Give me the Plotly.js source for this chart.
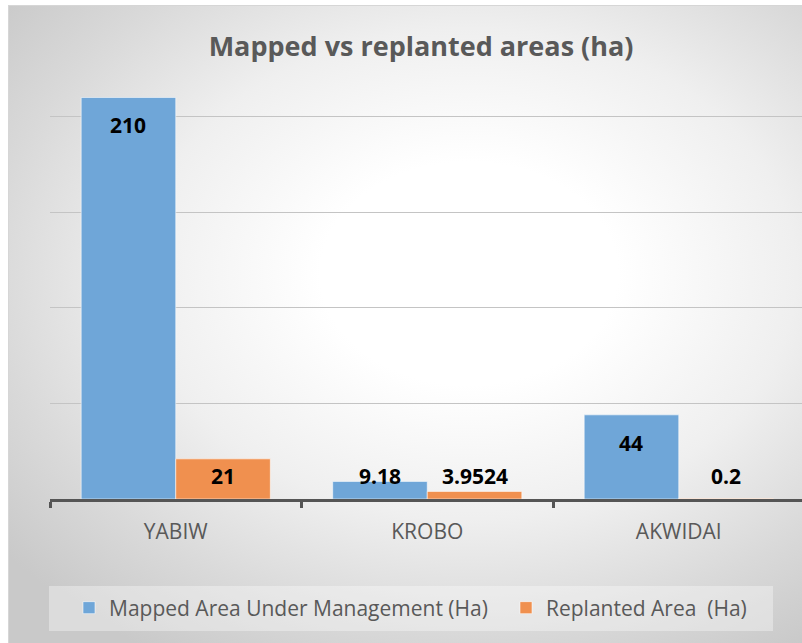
<!DOCTYPE html>
<html>
<head>
<meta charset="utf-8">
<script src="https://cdn.plot.ly/plotly-3.0.1.min.js"></script>
<style>
  html, body { margin: 0; padding: 0; background: #ffffff; overflow: hidden; }
  #wrap { position: relative; width: 802px; height: 643px; }
  #bg {
    position: absolute; left: 8px; top: 5px; right: 0; bottom: 0;
    border-top: 1px solid #d6d6d6; border-left: 1px solid #d6d6d6;
    background: radial-gradient(ellipse 75% 70% at 58% 42%, #ffffff 0%, #ffffff 25%, #efefef 55%, #d9d9d9 80%, #c9c9c9 100%);
  }
  #chart { position: absolute; left: 0; top: 0; width: 802px; height: 643px; }
</style>
</head>
<body>
<div id="wrap">
  <div id="bg"></div>
  <div id="chart"></div>
</div>
<script>
// ---- data ----
var categories = ["YABIW", "KROBO", "AKWIDAI"];
var mappedArea = [210, 9.18, 44];
var replantedArea = [21, 3.9524, 0.2];
var mappedLabels = ["210", "9.18", "44"];
var replantedLabels = ["21", "3.9524", "0.2"];
var seriesNames = ["Mapped Area Under Management (Ha)", "Replanted Area  (Ha)"];
var chartTitle = "Mapped vs replanted areas (ha)";

// ---- style ----
var FONT = "Open Sans, sans-serif";
var blue = "#6FA6D8";
var orange = "#F0904F";
var bargap = 0.248;

var traces = [
  {
    type: "bar", name: seriesNames[0], x: categories, y: mappedArea,
    marker: { color: blue, line: { color: "rgba(255,255,255,0.55)", width: 1 } },
    legend: "legend",
    hoverinfo: "none"
  },
  {
    type: "bar", name: seriesNames[1], x: categories, y: replantedArea,
    marker: { color: orange, line: { color: "rgba(255,255,255,0.55)", width: 1 } },
    legend: "legend2",
    hoverinfo: "none"
  }
];

// data labels: inside end; pushed up to sit just above the axis when the bar is short
var plotH = 478, yMax = 250;
var pxPerUnit = plotH / yMax;
var barOffset = (1 - bargap) / 4;
var annotations = [];
function addLabels(vals, labels, side) {
  for (var i = 0; i < vals.length; i++) {
    var topPx = vals[i] * pxPerUnit;
    var inside = topPx - 27 > 24;
    annotations.push({
      x: i + side * barOffset, xref: "x",
      y: inside ? vals[i] : 0, yref: "y",
      yshift: inside ? -28 : 23,
      yanchor: "middle", xanchor: "center",
      text: labels[i], showarrow: false,
      font: { family: FONT, size: 21, color: "#000000", weight: "bold" }
    });
  }
}
addLabels(mappedArea, mappedLabels, -1);
addLabels(replantedArea, replantedLabels, 1);

var legendBase = {
  orientation: "h",
  xanchor: "left",
  y: (499 - 608) / 478, yanchor: "middle",
  bgcolor: "rgba(0,0,0,0)",
  font: { family: FONT, size: 21, color: "#595959" }
};

var layout = {
  width: 802, height: 643,
  margin: { l: 50, r: 0, t: 21, b: 144, pad: 0 },
  paper_bgcolor: "rgba(0,0,0,0)",
  plot_bgcolor: "rgba(0,0,0,0)",
  font: { family: FONT, color: "#595959" },
  title: {
    text: "<b>" + chartTitle + "</b>",
    font: { family: FONT, size: 27, color: "#595959" },
    xref: "container", x: 0.525, xanchor: "center",
    yref: "container", y: 1 - 47 / 643, yanchor: "middle"
  },
  barmode: "group",
  bargap: bargap,
  bargroupgap: 0,
  showlegend: true,
  legend: Object.assign({}, legendBase, { x: 19 / 752 }),
  legend2: Object.assign({}, legendBase, { x: 456 / 752 }),
  xaxis: {
    type: "category",
    range: [-0.5, 2.49],
    showline: true, linecolor: "#555555", linewidth: 3,
    ticks: "outside", tickson: "boundaries", ticklen: 6, tickwidth: 3, tickcolor: "#555555",
    ticklabelstandoff: 12,
    tickfont: { family: FONT, size: 21, color: "#595959" },
    showgrid: false, zeroline: false, fixedrange: true
  },
  yaxis: {
    range: [0, yMax], dtick: 50,
    showgrid: true, gridcolor: "#c4c4c4", gridwidth: 1,
    showticklabels: false, ticks: "", zeroline: false, showline: false, fixedrange: true
  },
  shapes: [
    {
      type: "rect", xref: "paper", yref: "paper", layer: "below",
      x0: -1 / 752, x1: 723 / 752, y0: (499 - 586) / 478, y1: (499 - 631) / 478,
      fillcolor: "rgba(255,255,255,0.35)", line: { width: 0 }
    }
  ],
  annotations: annotations
};

Plotly.newPlot("chart", traces, layout, { displayModeBar: false, staticPlot: true });
</script>
</body>
</html>
